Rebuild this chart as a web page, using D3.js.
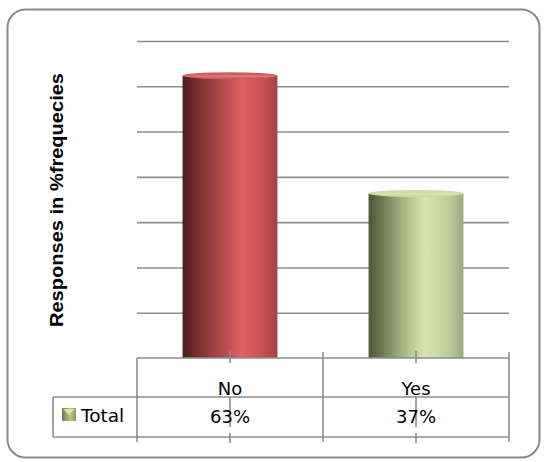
<!DOCTYPE html>
<html>
<head>
<meta charset="utf-8">
<script src="https://cdn.jsdelivr.net/npm/d3@7"></script>
<style>
  body { margin: 0; background: #fff; }
  svg { display: block; }
</style>
</head>
<body>
<svg width="546" height="462"></svg>
<script>
const categories = ["No", "Yes"];
const values = [63, 37];
const valueLabels = ["63%", "37%"];
const seriesName = "Total";
const gridTicks = [10, 20, 30, 40, 50, 60, 70];

const svg = d3.select("svg");
const defs = svg.append("defs");

const barStops = {
  No: [[0, "#4a1e1e"], [0.18, "#7c3232"], [0.45, "#b84c4c"], [0.62, "#e06262"], [0.85, "#c84e4e"], [1, "#a84242"]],
  Yes: [[0, "#4a5638"], [0.18, "#76855a"], [0.42, "#b4c490"], [0.6, "#d6e6ae"], [0.85, "#bccc98"], [1, "#9aaa80"]]
};
const capColor = { No: "#d45a5a", Yes: "#cddca4" };

Object.entries(barStops).forEach(([key, stops]) => {
  const g = defs.append("linearGradient").attr("id", "grad-" + key)
    .attr("x1", 0).attr("x2", 1).attr("y1", 0).attr("y2", 0);
  stops.forEach(s => g.append("stop").attr("offset", s[0]).attr("stop-color", s[1]));
});

// outer frame
svg.append("rect")
  .attr("x", 7.5).attr("y", 9.5).attr("width", 532).attr("height", 448)
  .attr("rx", 18).attr("fill", "#fff")
  .attr("stroke", "#8a8a8a").attr("stroke-width", 2);

const x = d3.scaleBand().domain(categories).range([137, 509]);
const y = d3.scaleLinear().domain([0, 70]).range([358, 41]);

// gridlines
const grid = svg.append("g").attr("transform", "translate(137,0)")
  .call(d3.axisLeft(y).tickValues(gridTicks).tickSize(-(509 - 137)).tickFormat(""));
grid.select(".domain").remove();
grid.selectAll(".tick line").attr("stroke", "#8c8c8c").attr("stroke-width", 1.6);

// cylinders
const barW = x.bandwidth() * 0.51;
const bars = svg.selectAll(".bar").data(categories).enter().append("g").attr("class", "bar");

bars.append("rect")
  .attr("x", d => x(d) + (x.bandwidth() - barW) / 2)
  .attr("y", (d, i) => y(values[i]) + 3)
  .attr("width", barW)
  .attr("height", (d, i) => y(0) - y(values[i]) - 3)
  .attr("fill", d => `url(#grad-${d})`);

bars.append("ellipse")
  .attr("cx", d => x(d) + x.bandwidth() / 2)
  .attr("cy", (d, i) => y(values[i]) + 3)
  .attr("rx", barW / 2)
  .attr("ry", 3.5)
  .attr("fill", d => capColor[d]);

bars.append("ellipse")
  .attr("cx", d => x(d) + x.bandwidth() / 2)
  .attr("cy", (d, i) => y(values[i]) + 3.5)
  .attr("rx", barW / 2 - 2)
  .attr("ry", 1.2)
  .attr("fill", "#fff")
  .attr("opacity", 0.18);

// data table
const line = (x1, y1, x2, y2) => svg.append("line")
  .attr("x1", x1).attr("y1", y1).attr("x2", x2).attr("y2", y2)
  .attr("stroke", "#8c8c8c").attr("stroke-width", 1.6);

const left = x.range()[0], right = x.range()[1];
line(left, y(0), right, y(0));
line(53, 397, right, 397);
line(53, 437, right, 437);
line(53, 397, 53, 437);
line(left, y(0), left, 442);
categories.forEach(c => line(x(c) + x.bandwidth(), 352, x(c) + x.bandwidth(), 442));
categories.forEach(c => {
  const cx = x(c) + x.bandwidth() / 2;
  line(cx, 351, cx, 363);
  line(cx, 397, cx, 427);
  line(cx, 433, cx, 443);
});

svg.selectAll(".cat").data(categories).enter().append("text")
  .attr("x", d => x(d) + x.bandwidth() / 2)
  .attr("y", 395)
  .attr("text-anchor", "middle")
  .style("font-family", "DejaVu Sans")
  .style("font-size", "18px")
  .text(d => d);

svg.selectAll(".val").data(valueLabels).enter().append("text")
  .attr("x", (d, i) => x(categories[i]) + x.bandwidth() / 2)
  .attr("y", 423)
  .attr("text-anchor", "middle")
  .style("font-family", "DejaVu Sans")
  .style("font-size", "18px")
  .text(d => d);

// legend key
const key = defs.append("linearGradient").attr("id", "key")
  .attr("x1", 0).attr("x2", 1).attr("y1", 0).attr("y2", 0);
key.append("stop").attr("offset", 0).attr("stop-color", "#6f7d50");
key.append("stop").attr("offset", 0.6).attr("stop-color", "#b6c684");
key.append("stop").attr("offset", 1).attr("stop-color", "#8c9a66");
svg.append("rect").attr("x", 62).attr("y", 408).attr("width", 14).attr("height", 13)
  .attr("fill", "url(#key)");
svg.append("path").attr("d", "M63,409 L75,409 L69,415 Z").attr("fill", "#d4e2a8");

svg.append("text")
  .attr("x", 81).attr("y", 422)
  .style("font-family", "DejaVu Sans")
  .style("font-size", "18.5px")
  .text(seriesName);

// y axis title
svg.append("text")
  .attr("transform", "translate(63,200) rotate(-90)")
  .attr("text-anchor", "middle")
  .attr("textLength", 254)
  .attr("lengthAdjust", "spacingAndGlyphs")
  .style("font-family", "Liberation Sans")
  .style("font-weight", "bold")
  .style("font-size", "18px")
  .text("Responses in %frequecies");
</script>
</body>
</html>
